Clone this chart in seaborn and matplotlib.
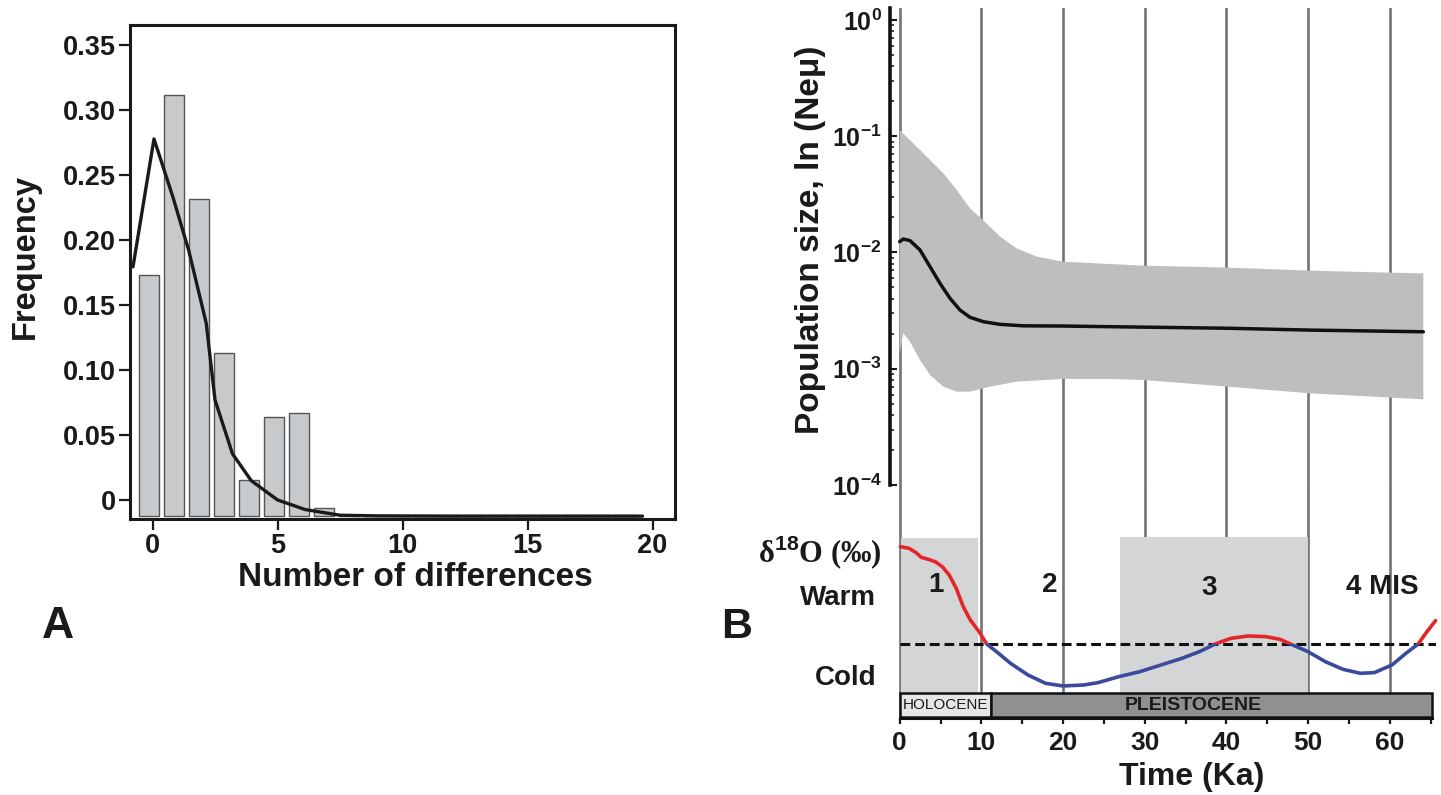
import numpy as np
import matplotlib
matplotlib.use('Agg')
import matplotlib.pyplot as plt
from matplotlib.patches import Rectangle
import seaborn as sns

sns.set_style('white')
plt.rcParams['font.family'] = ['Liberation Sans', 'DejaVu Sans']
plt.rcParams['font.weight'] = 'bold'
plt.rcParams['mathtext.fontset'] = 'custom'
plt.rcParams['mathtext.rm'] = 'Liberation Sans:bold'
plt.rcParams['mathtext.default'] = 'rm'

# ---- panel A : mismatch distribution ----
n_diff = np.arange(0, 20)
freq_obs = [0.173, 0.312, 0.232, 0.113, 0.015, 0.064, 0.067, -0.006, -0.0115, -0.012,
            -0.012, -0.012, -0.012, -0.012, -0.012, -0.012, -0.012, -0.012, -0.012, -0.012]
exp_x = [-0.78, 0.06, 0.82, 1.45, 2.15, 2.5, 3.2, 3.95, 5.0, 6.1, 7.5, 9.0, 12.0, 15.0, 19.6]
exp_y = [0.1795, 0.278, 0.233, 0.192, 0.136, 0.077, 0.0355, 0.0148, 0.0, -0.0074, -0.0118,
         -0.0123, -0.0125, -0.0125, -0.0125]
freq_ticks = [0, 0.05, 0.10, 0.15, 0.20, 0.25, 0.30, 0.35]
freq_labels = ['0', '0.05', '0.10', '0.15', '0.20', '0.25', '0.30', '0.35']
bar_base = -0.0127

# ---- panel B : skyline plot (Ne*mu, 95% HPD) ----
t_upper = [0, 2.89, 5.34, 6.98, 8.6, 10.2, 12.3, 14.3, 16.8, 20.0, 25.7, 29.9, 40.2, 50.2, 64.1]
ne_upper = [0.113, 0.0713, 0.048, 0.0345, 0.024, 0.019, 0.01368, 0.01086, 0.0092, 0.00834,
            0.00796, 0.0077, 0.00741, 0.00698, 0.0066]
t_lower = [0, 0.44, 1.26, 2.48, 3.71, 5.34, 6.98, 8.6, 11.05, 14.3, 20.0, 25.7, 29.9, 40.2,
           50.2, 64.1]
ne_lower = [0.00136, 0.00202, 0.00171, 0.00119, 0.000883, 0.000701, 0.000635, 0.000635,
            0.000701, 0.000774, 0.000817, 0.000817, 0.0008, 0.000701, 0.000615, 0.000546]
t_mean = [0.0, 0.44, 1.26, 2.48, 3.71, 4.93, 6.15, 7.38, 8.6, 10.23, 12.27, 15.1, 20.0, 25.7,
          40.2, 50.2, 64.1]
ne_mean = [0.0124, 0.01306, 0.01265, 0.01052, 0.00755, 0.00543, 0.00404, 0.0032, 0.00277,
           0.00254, 0.00241, 0.00234, 0.00233, 0.0023, 0.00223, 0.00215, 0.00208]

# ---- panel B : delta 18O curve (0 = dashed threshold) ----
t_o18 = [0.07, 1.14, 2.0, 2.64, 3.49, 4.35, 5.21, 6.06, 6.92, 7.78, 8.64, 9.71, 10.65, 11.85,
         13.56, 15.7, 17.85, 19.99, 22.56, 24.27, 26.84, 29.41, 31.98, 34.55, 36.7, 38.62,
         40.55, 42.69, 44.83, 46.55, 47.83, 49.98, 52.1, 54.26, 56.4, 58.1, 60.26, 61.97,
         63.47, 64.54, 65.6]
o18 = [2.92, 2.87, 2.74, 2.60, 2.54, 2.47, 2.32, 2.07, 1.67, 1.12, 0.72, 0.37, 0.0, -0.23,
       -0.58, -0.93, -1.18, -1.26, -1.23, -1.16, -0.98, -0.83, -0.63, -0.43, -0.23, 0.0,
       0.17, 0.24, 0.22, 0.14, 0.0, -0.23, -0.53, -0.76, -0.88, -0.86, -0.63, -0.28, 0.0,
       0.37, 0.70]
mis_spans = [(0.1, 9.6, 3.17), (27.0, 50.0, 3.22)]
mis_labels = [('1', 4.4, 1.77), ('2', 18.4, 1.77), ('3', 37.9, 1.67), ('4 MIS', 59.1, 1.72)]
epochs = [('HOLOCENE', 0, 11.2, '#e6e6e6'), ('PLEISTOCENE', 11.2, 65.2, '#8e9092')]
time_major = [0, 10, 20, 30, 40, 50, 60]
time_minor = [5, 15, 25, 35, 45, 55, 65]
ne_ticks = [1e-4, 1e-3, 1e-2, 1e-1, 1e0]
ne_labels = [r'$10^{-4}$', r'$10^{-3}$', r'$10^{-2}$', r'$10^{-1}$', r'$10^{0}$']

W, H = 1441, 795
fig = plt.figure(figsize=(W / 100, H / 100), dpi=100)
ink = '#1a1a1a'

# ================= A =================
axA = fig.add_axes([130 / W, 1 - 519 / H, 545 / W, 494 / H])
axA.bar(n_diff - 0.15, np.array(freq_obs) - bar_base, bottom=bar_base, width=0.82,
        color='#c7cacd', edgecolor='#555555', linewidth=1, zorder=1)
sns.lineplot(x=exp_x, y=exp_y, color=ink, linewidth=2.4, ax=axA, zorder=3)
axA.set_xlim(-0.9, 20.9)
axA.set_ylim(-0.0147, 0.3657)
axA.set_yticks(freq_ticks)
axA.set_yticklabels(freq_labels)
axA.set_xticks([0, 5, 10, 15, 20])
axA.tick_params(axis='both', direction='out', length=8, width=1.6, labelsize=19.5,
                pad=2, left=True, bottom=True, colors=ink)
for s in axA.spines.values():
    s.set_linewidth(2.2)
    s.set_color(ink)
fig.text(25 / W, 1 - 257 / H, 'Frequency', rotation=90, ha='center', va='center',
         fontsize=23.5, color=ink)
fig.text(415 / W, 1 - 577 / H, 'Number of differences', ha='center', va='center',
         fontsize=24, color=ink)
fig.text(58 / W, 1 - 627 / H, 'A', ha='center', va='center', fontsize=32, color=ink)
fig.text(737 / W, 1 - 627 / H, 'B', ha='center', va='center', fontsize=31, color=ink)

# ================= B top =================
xl = (-1.2, 65.6)
left = 889.9 / W
width = (1435.6 - 889.9) / W
axT = fig.add_axes([left, 1 - 485 / H, width, (485 - 8) / H])
axT.set_yscale('log')
grid_c = '#747474'
for t in time_major:
    axT.axvline(t, color=grid_c, lw=1.9, zorder=0)
axT.fill(np.r_[t_upper, t_lower[::-1]], np.r_[ne_upper, ne_lower[::-1]],
         color='#bcbec0', lw=0, zorder=1)
sns.lineplot(x=t_mean, y=ne_mean, color='#111111', linewidth=2.5, ax=axT, zorder=3)
axT.set_xlim(*xl)
axT.set_ylim(1e-4, 10 ** 0.103)
axT.set_xticks([])
axT.set_yticks(ne_ticks)
axT.set_yticklabels(ne_labels)
axT.yaxis.set_minor_locator(matplotlib.ticker.LogLocator(base=10, subs=np.arange(2, 10)))
axT.yaxis.set_minor_formatter(matplotlib.ticker.NullFormatter())
axT.tick_params(axis='y', which='major', direction='in', length=5, width=1.5,
                labelsize=18, pad=6, left=True, colors=ink)
axT.tick_params(axis='y', which='minor', direction='in', length=3, width=1.2, left=True)
for k in ['top', 'right', 'bottom']:
    axT.spines[k].set_visible(False)
axT.spines['left'].set_linewidth(2.6)
axT.spines['left'].set_color('#111111')
axT.spines['left'].set_bounds(1e-4, 10 ** 0.103)
axT.patch.set_alpha(0)
fig.text(810 / W, 1 - 240 / H, 'Population size, ln (Ne\u03bc)', rotation=90,
         ha='center', va='center', fontsize=24, color=ink)

# ================= B bottom =================
axB = fig.add_axes([left, 1 - 718.3 / H, width, (718.3 - 485) / H])
axB.patch.set_alpha(0)
for t in time_major:
    axB.axvline(t, color=grid_c, lw=1.9, zorder=0)
for x0, x1, top in mis_spans:
    axB.add_patch(Rectangle((x0, -1.48), x1 - x0, top + 1.48, color='#d4d5d7', lw=0, zorder=1))
axB.axhline(0, xmin=(0 - xl[0]) / (xl[1] - xl[0]), xmax=1.0, color='#111111', lw=2.2,
            dashes=(3.2, 1.6), zorder=2)
warm, = axB.plot(t_o18, o18, color='#e4262b', lw=2.6, zorder=3, solid_capstyle='round')
cold, = axB.plot(t_o18, o18, color='#3a4a9c', lw=2.6, zorder=3, solid_capstyle='round')
warm.set_clip_path(Rectangle((-5, 0), 80, 20, transform=axB.transData))
cold.set_clip_path(Rectangle((-5, -20), 80, 20, transform=axB.transData))
for txt, tx, ty in mis_labels:
    axB.text(tx, ty, txt, ha='center', va='center', fontsize=20, color=ink, zorder=5)
for name, x0, x1, col in epochs:
    axB.add_patch(Rectangle((x0, -2.2), x1 - x0, 0.72, facecolor=col, edgecolor='#111111',
                            lw=1.8, zorder=4))
    if name == 'HOLOCENE':
        axB.text((x0 + x1) / 2, -1.84, name, ha='center', va='center', fontsize=11,
                 fontweight='normal', color=ink, zorder=5)
    else:
        axB.text(36.0, -1.84, name, ha='center', va='center', fontsize=14,
                 color=ink, zorder=5)
axB.set_xlim(*xl)
axB.set_ylim(-2.23, 4.77)
axB.set_yticks([])
axB.set_xticks(time_major)
axB.set_xticks(time_minor, minor=True)
axB.tick_params(axis='x', which='both', direction='out', length=4, width=1.6,
                labelsize=19, pad=5, bottom=True, colors=ink)
for k in ['top', 'right', 'left']:
    axB.spines[k].set_visible(False)
axB.spines['bottom'].set_linewidth(2.2)
axB.spines['bottom'].set_color('#111111')
axB.spines['bottom'].set_bounds(0, 65.2)
fig.text(1192 / W, 1 - 777 / H, 'Time (Ka)', ha='center', va='center', fontsize=23,
         color=ink)
fig.text(882 / W, 1 - 552 / H, '\u03b4$^{18}$O (\u2030)', ha='right', va='center',
         fontsize=22, family=['Liberation Serif', 'DejaVu Serif'], color=ink)
fig.text(876 / W, 1 - 598 / H, 'Warm', ha='right', va='center', fontsize=20, color=ink)
fig.text(876 / W, 1 - 678 / H, 'Cold', ha='right', va='center', fontsize=20, color=ink)

fig.savefig('out.png', dpi=100, facecolor='white')
